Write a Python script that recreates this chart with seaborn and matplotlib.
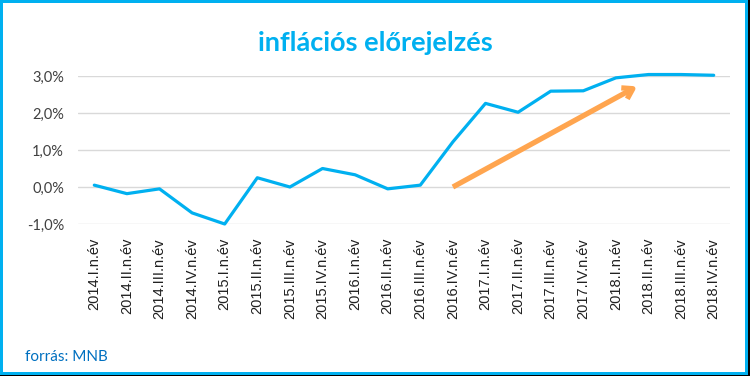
import matplotlib
matplotlib.use("Agg")
import matplotlib.pyplot as plt
import matplotlib.patches as mpatches
from matplotlib.ticker import FuncFormatter
import pandas as pd
import seaborn as sns

# negyedéves inflációs előrejelzés (%)
quarters = [
    "2014.I.n.év", "2014.II.n.év", "2014.III.n.év", "2014.IV.n.év",
    "2015.I.n.év", "2015.II.n.év", "2015.III.n.év", "2015.IV.n.év",
    "2016.I.n.év", "2016.II.n.év", "2016.III.n.év", "2016.IV.n.év",
    "2017.I.n.év", "2017.II.n.év", "2017.III.n.év", "2017.IV.n.év",
    "2018.I.n.év", "2018.II.n.év", "2018.III.n.év", "2018.IV.n.év",
]
inflation = [0.05, -0.18, -0.05, -0.70, -1.00, 0.25, 0.00, 0.50, 0.33, -0.05,
             0.05, 1.22, 2.26, 2.02, 2.59, 2.60, 2.95, 3.04, 3.04, 3.02]

# trend arrow (start/end in data units)
arrow_start = (11.0, 0.0)
arrow_end = (16.65, 2.72)

CYAN = "#00B0F0"
ORANGE = "#FFA54F"

df = pd.DataFrame({"quarter": quarters, "inflation": inflation})

sns.set_style("white")
fig = plt.figure(figsize=(7.5, 3.76), dpi=100)

# frame: black shadow, cyan border, white inside
fig.patches.append(mpatches.Rectangle((0, 0), 1, 1, transform=fig.transFigure,
                                      facecolor="black", edgecolor="none", zorder=-3))
fig.patches.append(mpatches.Rectangle((0, 1 / 376), 748 / 750, 375 / 376, transform=fig.transFigure,
                                      facecolor=CYAN, edgecolor="none", zorder=-2))
fig.patches.append(mpatches.Rectangle((3 / 750, 4 / 376), 742 / 750, 369 / 376, transform=fig.transFigure,
                                      facecolor="white", edgecolor="none", zorder=-1))

ax = fig.add_axes([78 / 750, 1 - 224 / 376, 652 / 750, 148 / 376])
ax.set_facecolor("none")

sns.lineplot(data=df, x="quarter", y="inflation", sort=False, ax=ax,
             color=CYAN, linewidth=2.3, clip_on=False)

ax.annotate("", xy=arrow_end, xytext=arrow_start,
            arrowprops=dict(arrowstyle="->,head_length=0.7,head_width=0.45",
                            color=ORANGE, lw=3.8, shrinkA=0, shrinkB=0,
                            capstyle="butt"))

ax.set_xlim(-0.5, len(quarters) - 0.5)
ax.set_ylim(-1.0, 3.0)
ax.set_yticks([-1, 0, 1, 2, 3])
ax.yaxis.set_major_formatter(FuncFormatter(lambda v, p: f"{v:.1f}%".replace(".", ",")))
ax.grid(axis="y", color="#D9D9D9", linewidth=1)
ax.grid(axis="x", visible=False)
for s in ax.spines.values():
    s.set_visible(False)
ax.tick_params(axis="both", length=0)
ax.tick_params(axis="y", pad=10, labelsize=10.5, labelcolor="#404040")
ax.tick_params(axis="x", pad=10, labelsize=10.5, labelcolor="#202020")
for lab in ax.get_yticklabels():
    lab.set_fontfamily("Lato")
for lab in ax.get_xticklabels():
    lab.set_rotation(90)
    lab.set_fontfamily("Liberation Sans")
ax.set_xlabel("")
ax.set_ylabel("")

fig.text(0.5, 1 - 43 / 376, "inflációs előrejelzés", ha="center", va="center",
         color=CYAN, fontsize=19.5, fontweight="bold", fontfamily="Lato")
fig.text(25 / 750, 1 - 357 / 376, "forrás: MNB", ha="left", va="center",
         color="#0070C0", fontsize=11, fontfamily="Lato")

fig.savefig("out.png", dpi=100)
